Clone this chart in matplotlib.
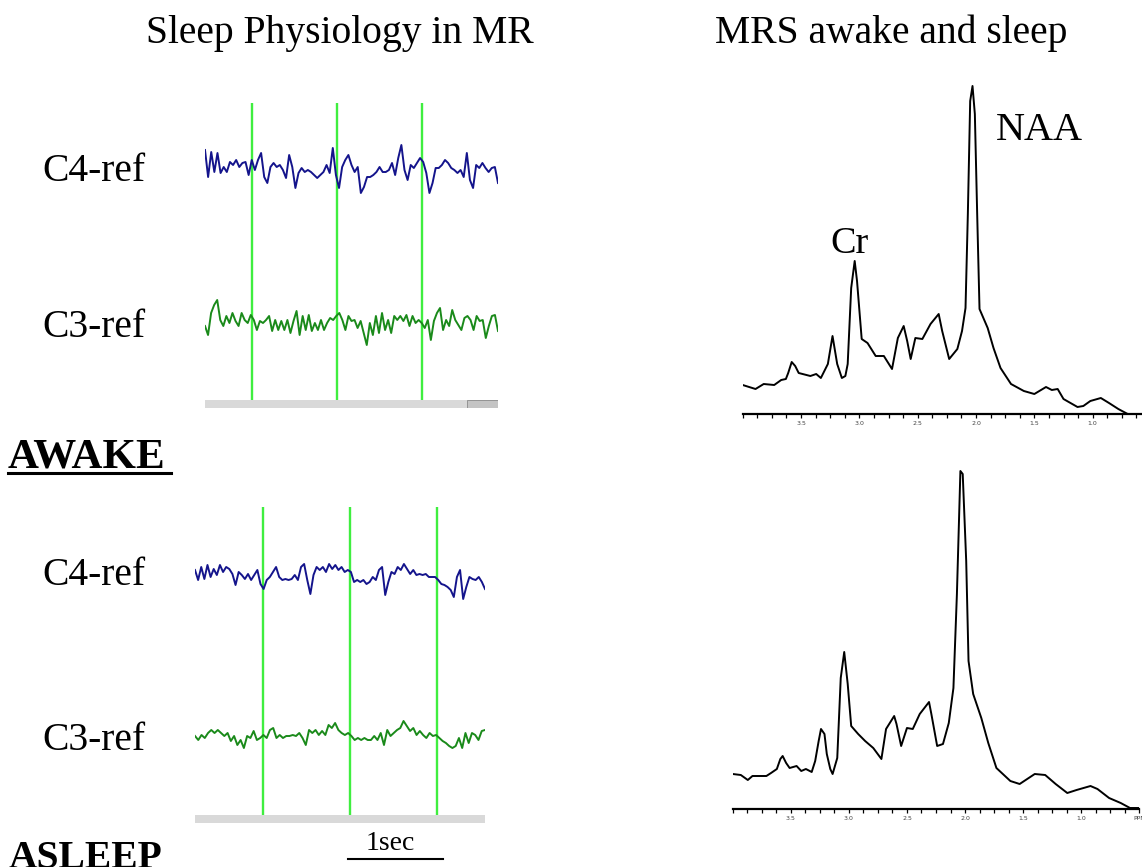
import numpy as np
import matplotlib.pyplot as plt
from matplotlib.patches import Rectangle
from matplotlib.lines import Line2D

plt.rcParams['font.family'] = ['Liberation Serif', 'DejaVu Serif']

# EEG traces (deviation from channel baseline, screen px, up = positive)
awake_c4 = [20, -7, 18, -2, 17, -3, 3, -2, 8, 5, 10, 3, 7, 8, -5, 10, 0, 10, 17, -7,
            -13, 3, 7, 3, 5, 0, -8, 15, 3, -18, -3, 2, -2, 0, -2, -5, -8, -5, -2, 5,
            -3, 22, -5, -18, 3, 10, 15, 5, -2, 3, -23, -17, -7, -7, -5, -2, 3, -2, -2, 0,
            7, -5, 12, 25, 0, -10, 5, 2, 7, 12, 8, -3, -23, -13, 2, 2, 5, 10, 7, 2,
            0, -3, 0, -7, 17, -10, -18, 5, 2, 7, 2, -2, 2, 3, -13]
awake_c3 = [-3, -12, 10, 18, 23, 3, -3, 7, 0, 10, 2, -3, 10, 3, 0, 8, 3, -7, 2, 0,
            3, 7, -8, 3, -7, 2, -7, 3, -10, 2, 12, -12, 7, -7, 8, -8, 0, -7, 3, -7,
            0, 5, 3, 7, 10, 3, -7, 7, 2, 3, -5, 2, -10, -22, 0, -12, 7, -10, 10, -7,
            3, -10, 7, 3, 7, 2, 8, -3, 7, 0, 3, 0, -5, 3, -17, 2, 10, 15, -7, 3,
            -3, 13, 3, -2, -7, 5, 7, 3, -7, 7, 2, 3, -15, -3, 7, 8, -8]
asleep_c4 = [7, -3, 10, -2, 12, 0, 8, 2, 12, 5, 10, 8, 3, -8, 5, 2, -2, 3, -3, 2,
             7, -7, -12, -3, 0, 5, 10, 0, -3, -2, -3, -2, 2, -3, 10, 13, -3, -17, 2, 10,
             7, 10, 5, 13, 8, 12, 7, 10, 5, 7, 5, -5, -3, -5, -3, -7, -5, 0, -3, 7,
             10, -18, -5, 5, 3, 10, 7, 13, 8, 3, 7, 2, 3, 2, 3, 0, 0, 0, -3, -7,
             -8, -10, -13, -20, 0, 7, -22, -10, 0, -2, -3, 0, -5, -12]
asleep_c3 = [2, -2, 3, 0, 5, 8, 5, 8, 5, 2, 5, -3, 2, -7, -2, -10, 2, 0, 7, -2,
             0, 3, 0, 8, 10, 0, 3, 0, 2, 2, 3, 2, 5, 0, -7, 8, 5, 8, 3, 7,
             3, 13, 10, 15, 8, 5, 3, 5, 2, -2, 0, -2, 0, -2, -2, 2, -2, 5, -7, 8,
             2, 5, 8, 10, 17, 12, 7, 10, 3, 7, 3, 0, 5, 2, 3, 0, -3, -5, -8, -10,
             -8, 0, -10, 5, -5, 5, 3, -2, 7, 8]

# MRS spectra (chemical shift in ppm, signal height in arbitrary units)
awake_ppm = [4.00, 3.89, 3.82, 3.73, 3.67, 3.63, 3.61, 3.58, 3.55, 3.52, 3.42, 3.37,
             3.33, 3.27, 3.23, 3.19, 3.15, 3.12, 3.10, 3.07, 3.04, 3.02, 2.98, 2.93,
             2.86, 2.79, 2.72, 2.67, 2.62, 2.59, 2.56, 2.52, 2.46, 2.39, 2.32, 2.29,
             2.23, 2.16, 2.12, 2.09, 2.07, 2.05, 2.03, 2.01, 1.99, 1.97, 1.90, 1.85,
             1.79, 1.70, 1.59, 1.50, 1.40, 1.35, 1.30, 1.25, 1.13, 1.08, 1.02, 0.93,
             0.86, 0.78, 0.70, 0.58, 0.50]
awake_sig = [29, 25, 30, 29, 34, 35, 41, 52, 48, 41, 38, 40,
             36, 50, 78, 50, 36, 38, 50, 126, 153, 133, 75, 71,
             58, 58, 45, 76, 88, 73, 55, 76, 75, 90, 100, 83,
             55, 65, 83, 106, 200, 313, 328, 300, 200, 105, 86, 66,
             46, 30, 23, 20, 27, 24, 25, 15, 7, 8, 13, 16,
             11, 5, 0, 0, 0]
asleep_ppm = [4.00, 3.93, 3.87, 3.83, 3.71, 3.67, 3.62, 3.59, 3.57, 3.54, 3.51, 3.45,
              3.41, 3.37, 3.32, 3.29, 3.26, 3.24, 3.21, 3.19, 3.16, 3.14, 3.10, 3.07,
              3.04, 3.01, 2.98, 2.92, 2.86, 2.79, 2.72, 2.68, 2.61, 2.59, 2.55, 2.50,
              2.45, 2.39, 2.31, 2.29, 2.24, 2.19, 2.14, 2.10, 2.07, 2.04, 2.02, 1.99,
              1.97, 1.93, 1.86, 1.80, 1.73, 1.61, 1.53, 1.40, 1.31, 1.22, 1.12, 1.04,
              0.92, 0.86, 0.76, 0.66, 0.58, 0.51]
asleep_sig = [35, 34, 29, 33, 33, 36, 40, 50, 53, 46, 41, 43,
              38, 40, 37, 48, 68, 80, 75, 55, 40, 35, 51, 131,
              157, 125, 83, 75, 68, 61, 50, 80, 93, 85, 63, 81,
              80, 95, 107, 95, 63, 65, 86, 121, 215, 338, 335, 248,
              148, 115, 91, 66, 41, 28, 25, 35, 34, 25, 16, 19,
              23, 20, 11, 6, 1, 1]

tick_pos = [3.5, 3.0, 2.5, 2.0, 1.5, 1.0, 0.5]
tick_lab = ['3.5', '3.0', '2.5', '2.0', '1.5', '1.0', 'PPM']

W, H = 1142, 867
fig = plt.figure(figsize=(W / 100, H / 100), dpi=100)


def box(x0, y0, x1, y1):
    return fig.add_axes([x0 / W, 1 - y1 / H, (x1 - x0) / W, (y1 - y0) / H])


def ftext(x, y, s, **kw):
    fig.text(x / W, 1 - y / H, s, va='baseline', **kw)


def eeg_panel(x0, x1, y_top, y_bar, sec_px, first_mark, c4, c3, c4_y, c3_y):
    ax = box(x0, y_top, x1, y_bar + 8)
    t_end = (x1 - x0) / sec_px
    ax.set_xlim(0, t_end)
    ax.set_ylim(y_bar + 8, y_top)
    ax.axis('off')
    marks = [first_mark + i for i in range(3)]
    ax.vlines(marks, y_top, y_bar, color='#3fee3f', lw=1.7, zorder=1)
    ax.plot(np.linspace(0, t_end, len(c4)), c4_y - np.array(c4),
            color='#14148c', lw=1.4, zorder=2)
    ax.plot(np.linspace(0, t_end, len(c3)), c3_y - np.array(c3),
            color='#1a8a1a', lw=1.4, zorder=2)
    ax.add_patch(Rectangle((0, y_bar), t_end, 8, color='#d9d9d9', lw=0, zorder=1))
    return ax


def mrs_panel(x0, y_top, x1, y_axis, ppm, sig):
    ax = box(x0, y_top, x1, y_axis)
    ax.set_xlim(4.0, 0.5)
    ax.set_ylim(0, y_axis - y_top)
    ax.plot(ppm, sig, color='black', lw=1.4)
    for s in ['top', 'left', 'right']:
        ax.spines[s].set_visible(False)
    ax.spines['bottom'].set_linewidth(1.6)
    ax.set_yticks([])
    ax.set_xticks(tick_pos)
    ax.set_xticklabels(tick_lab)
    ax.set_xticks(np.arange(4.0, 0.49, -0.125), minor=True)
    ax.tick_params(axis='x', which='both', direction='out', length=3, width=0.9,
                   labelsize=4.5, pad=2, labelcolor='#444444',
                   labelfontfamily='DejaVu Sans')
    ax.patch.set_alpha(0)
    return ax


# awake / asleep EEG
aw = eeg_panel(205, 498, 103, 400, 85.0, 0.549, awake_c4, awake_c3, 170, 323)
aw.add_patch(Rectangle((0.895, 0), 0.105, 8 / 305, transform=aw.transAxes,
                       facecolor='#c4c4c4', edgecolor='#8a8a8a', lw=0.6, zorder=3))
eeg_panel(195, 485, 507, 815, 86.7, 0.788, asleep_c4, asleep_c3, 577, 738)

# spectra
ax1 = mrs_panel(742.7, 80, 1151, 414, awake_ppm, awake_sig)
ax1.text(1.83, 274, 'NAA', fontsize=29, va='baseline', ha='left')
ax1.text(3.25, 161, 'Cr', fontsize=27.5, va='baseline', ha='left')
mrs_panel(732.7, 460, 1139.3, 809, asleep_ppm, asleep_sig)

# text
ftext(340, 43, 'Sleep Physiology in MR', fontsize=28.5, ha='center')
ftext(891, 43, 'MRS awake and sleep', fontsize=28.5, ha='center')
for y, s in [(181, 'C4-ref'), (337, 'C3-ref'), (585, 'C4-ref'), (750, 'C3-ref')]:
    ftext(42, y, s, fontsize=28.5, ha='left')
ftext(8, 467, 'AWAKE', fontsize=31, weight='bold', ha='left')
fig.add_artist(Line2D([8 / W, 171 / W], [1 - 473.5 / H] * 2, color='black', lw=2.2))
ftext(9, 868, 'ASLEEP', fontsize=28.5, weight='bold', ha='left')
ftext(390, 850, '1sec', fontsize=20, ha='center')
fig.add_artist(Line2D([348 / W, 443 / W], [1 - 859 / H] * 2, color='black', lw=1.5))

fig.savefig('out.png', dpi=100, facecolor='white')
